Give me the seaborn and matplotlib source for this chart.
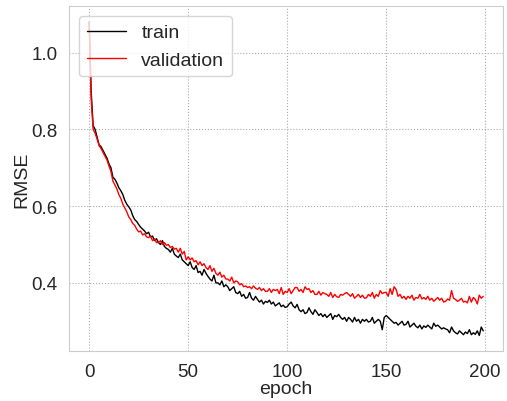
import numpy as np
import pandas as pd
import matplotlib
matplotlib.use('Agg')
import matplotlib.pyplot as plt
import seaborn as sns

train_rmse = [
    1.08, 0.90, 0.81, 0.80, 0.78, 0.76, 0.755, 0.745, 0.735, 0.725,
    0.71, 0.70, 0.675, 0.67, 0.66, 0.648, 0.64, 0.63, 0.615, 0.605,
    0.598, 0.59, 0.575, 0.565, 0.56, 0.552, 0.545, 0.54, 0.535, 0.528,
    0.532, 0.52, 0.522, 0.51, 0.515, 0.505, 0.50, 0.51, 0.495, 0.49,
    0.487, 0.48, 0.49, 0.475, 0.47, 0.466, 0.475, 0.46, 0.455, 0.45,
    0.445, 0.455, 0.44, 0.435, 0.445, 0.427, 0.43, 0.42, 0.435, 0.425,
    0.417, 0.41, 0.405, 0.42, 0.40, 0.40, 0.395, 0.405, 0.39, 0.395,
    0.39, 0.38, 0.385, 0.39, 0.375, 0.372, 0.378, 0.365, 0.37, 0.36,
    0.362, 0.375, 0.36, 0.355, 0.365, 0.357, 0.35, 0.355, 0.345, 0.352,
    0.349, 0.355, 0.345, 0.35, 0.34, 0.344, 0.348, 0.338, 0.342, 0.336,
    0.338, 0.345, 0.35, 0.34, 0.335, 0.344, 0.33, 0.325, 0.33, 0.32,
    0.323, 0.335, 0.325, 0.318, 0.33, 0.323, 0.315, 0.32, 0.312, 0.318,
    0.31, 0.315, 0.32, 0.305, 0.315, 0.312, 0.318, 0.31, 0.305, 0.31,
    0.30, 0.31, 0.305, 0.298, 0.31, 0.30, 0.305, 0.295, 0.305, 0.30,
    0.305, 0.298, 0.30, 0.31, 0.295, 0.30, 0.305, 0.30, 0.278, 0.31,
    0.315, 0.31, 0.305, 0.30, 0.295, 0.297, 0.29, 0.295, 0.30, 0.29,
    0.292, 0.30, 0.285, 0.29, 0.295, 0.287, 0.283, 0.29, 0.28, 0.288,
    0.284, 0.29, 0.285, 0.28, 0.295, 0.287, 0.29, 0.285, 0.28, 0.283,
    0.28, 0.278, 0.27, 0.285, 0.275, 0.27, 0.267, 0.275, 0.27, 0.265,
    0.272, 0.268, 0.278, 0.265, 0.27, 0.266, 0.275, 0.263, 0.285, 0.275,
]

val_rmse = [
    1.08, 0.88, 0.80, 0.79, 0.775, 0.758, 0.75, 0.74, 0.73, 0.72,
    0.705, 0.69, 0.665, 0.655, 0.645, 0.63, 0.62, 0.605, 0.595, 0.585,
    0.572, 0.565, 0.555, 0.55, 0.54, 0.533, 0.535, 0.525, 0.528, 0.52,
    0.518, 0.522, 0.51, 0.515, 0.505, 0.505, 0.51, 0.50, 0.505, 0.498,
    0.50, 0.492, 0.495, 0.488, 0.49, 0.48, 0.49, 0.475, 0.482, 0.46,
    0.468, 0.46, 0.465, 0.455, 0.458, 0.447, 0.455, 0.445, 0.45, 0.44,
    0.435, 0.445, 0.43, 0.438, 0.425, 0.42, 0.428, 0.415, 0.42, 0.41,
    0.41, 0.405, 0.415, 0.40, 0.405, 0.403, 0.395, 0.398, 0.39, 0.392,
    0.388, 0.39, 0.385, 0.392, 0.386, 0.383, 0.388, 0.38, 0.385, 0.378,
    0.378, 0.385, 0.375, 0.383, 0.38, 0.383, 0.372, 0.388, 0.37, 0.378,
    0.375, 0.385, 0.372, 0.38, 0.388, 0.388, 0.378, 0.383, 0.375, 0.39,
    0.383, 0.385, 0.375, 0.38, 0.37, 0.37, 0.378, 0.368, 0.375, 0.372,
    0.37, 0.365, 0.375, 0.362, 0.37, 0.364, 0.362, 0.37, 0.368, 0.372,
    0.375, 0.37, 0.365, 0.372, 0.36, 0.365, 0.37, 0.362, 0.368, 0.36,
    0.361, 0.37, 0.365, 0.375, 0.36, 0.37, 0.365, 0.38, 0.372, 0.375,
    0.375, 0.365, 0.385, 0.37, 0.39, 0.383, 0.365, 0.37, 0.36, 0.365,
    0.357, 0.365, 0.36, 0.368, 0.355, 0.362, 0.36, 0.37, 0.358, 0.362,
    0.357, 0.365, 0.355, 0.36, 0.352, 0.357, 0.362, 0.355, 0.36, 0.35,
    0.352, 0.358, 0.355, 0.38, 0.36, 0.357, 0.352, 0.355, 0.36, 0.35,
    0.352, 0.348, 0.365, 0.35, 0.362, 0.357, 0.345, 0.368, 0.36, 0.365,
]

epochs = list(range(len(train_rmse)))

df = pd.DataFrame({'epoch': epochs, 'train': train_rmse, 'validation': val_rmse})
df_long = df.melt(id_vars='epoch', var_name='set', value_name='RMSE')

sns.set_style('whitegrid', {'grid.linestyle': ':', 'grid.color': '#aaaaaa',
                            'axes.edgecolor': '#cccccc'})
plt.rcParams['font.family'] = ['Liberation Sans', 'DejaVu Sans']

fig, ax = plt.subplots(figsize=(5.07, 4.02), dpi=100)
fig.subplots_adjust(left=0.137, right=0.992, bottom=0.124, top=0.982)
sns.lineplot(data=df_long, x='epoch', y='RMSE', hue='set',
             palette={'train': 'black', 'validation': 'red'}, linewidth=1, ax=ax)
ax.margins(0.05)
ax.set_xticks([0, 50, 100, 150, 200])
ax.set_yticks([0.4, 0.6, 0.8, 1.0])
ax.tick_params(labelsize=13.5, pad=5)
ax.set_xlabel('epoch', fontsize=14, labelpad=0)
ax.set_ylabel('RMSE', fontsize=14, labelpad=1)
ax.legend(loc='upper left', fontsize=14, frameon=True, title=None)

plt.savefig('out.png', dpi=100)
